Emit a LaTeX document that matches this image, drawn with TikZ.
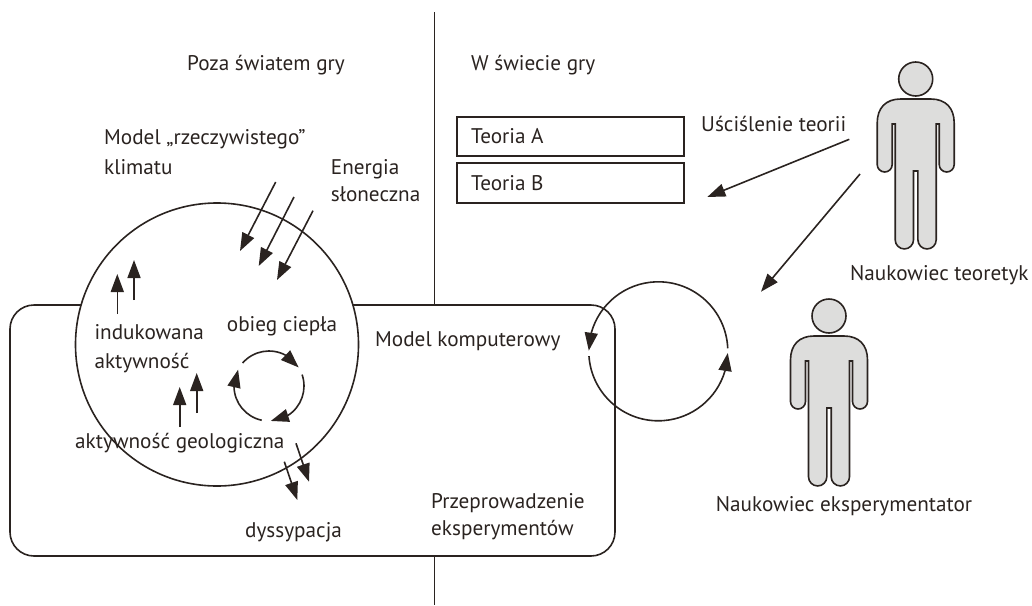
\documentclass[tikz,border=0pt]{standalone}
\usepackage{fontspec}
\setmainfont{PT Sans}
\usetikzlibrary{arrows.meta,calc}
\definecolor{ink}{HTML}{2A2320}
\definecolor{bodygray}{HTML}{DDDDDC}
\tikzset{
  line/.style={draw=ink,line width=1.6pt},
  arr/.style={line,-{Triangle[length=18pt,width=13pt]}},
  txt/.style={anchor=base west,inner sep=0pt,text=ink,font=\fontsize{21.2}{24}\selectfont},
  theorybox/.style={draw=ink,line width=1.9pt,fill=none,minimum width=227pt,anchor=north west,inner sep=0pt},
  person/.pic={
    \path[line,fill=bodygray,line join=miter]
      (-38.5,24) .. controls (-38.5,9) and (-30,0) .. (-15,0) -- (15,0)
      .. controls (30,0) and (38.5,9) .. (38.5,24) -- (38.5,65.5)
      arc[start angle=0,end angle=-180,radius=7.5pt] -- (23.5,25) -- (20.5,25) -- (20.5,140.8)
      arc[start angle=0,end angle=-180,radius=9.15pt] -- (2.2,72) -- (-2.2,72) -- (-2.2,140.8)
      arc[start angle=0,end angle=-180,radius=9.15pt] -- (-20.5,25) -- (-23.5,25) -- (-23.5,65.5)
      arc[start angle=0,end angle=-180,radius=7.5pt] -- cycle;
    \path[line,fill=bodygray] (0,-20) circle[radius=17pt];
  }
}
\begin{document}
\begin{tikzpicture}[x=1pt,y=-1pt]
\useasboundingbox (0,0) rectangle (1032,605);
% divider
\coordinate (divtop) at (434.3,12);
\coordinate (divmid) at (434.3,305);
\coordinate (divlow) at (434.3,556);
\coordinate (divbot) at (434.3,605);
\draw[line] (divtop) -- (divmid);
\draw[line] (divlow) -- (divbot);
% rounded frame
\coordinate (frameA) at (81,305);
\coordinate (frameB) at (353,305);
\draw[line] (frameA) -- (34,305) arc[start angle=90,end angle=180,radius=24pt] -- (10,532)
  arc[start angle=180,end angle=270,radius=24pt] -- (591,556)
  arc[start angle=270,end angle=360,radius=24pt] -- (615,329)
  arc[start angle=0,end angle=90,radius=24pt] -- (frameB);
% big circle
\node[line,circle,minimum size=283pt,inner sep=0pt] (climate) at (217,344.5) {};
% small cycle
\coordinate (heat) at (269,386);
\draw[arr] (heat) ++(139:35pt) arc[start angle=139,end angle=61.5,radius=35pt] -- ($(heat)+(32:35pt)$);
\draw[arr] (heat) ++(19:35pt) arc[start angle=19,end angle=-57.5,radius=35pt] -- ($(heat)+(-87:35pt)$);
\draw[arr] (heat) ++(-102:35pt) arc[start angle=-102,end angle=-178.5,radius=35pt] -- ($(heat)+(152:35pt)$);
% experiment cycle
\coordinate (exper) at (658.3,351.3);
\draw[arr] (exper) ++(184:69.5pt) arc[start angle=184,end angle=343.8,radius=69.5pt] -- ($(exper)+(358.6:69.5pt)$);
\draw[arr] (exper) ++(2.5:69.5pt) arc[start angle=2.5,end angle=164.7,radius=69.5pt] -- ($(exper)+(179.5:69.5pt)$);
% solar arrows
\coordinate (s1a) at (275.7,182); \coordinate (s1b) at (240,251);
\coordinate (s2a) at (294,197);   \coordinate (s2b) at (258.7,266);
\coordinate (s3a) at (313,210.7); \coordinate (s3b) at (277,280);
\draw[arr] (s1a) -- (s1b);
\draw[arr] (s2a) -- (s2b);
\draw[arr] (s3a) -- (s3b);
% up arrows
\coordinate (u1a) at (117.3,314); \coordinate (u1b) at (117.3,274);
\coordinate (u2a) at (134,300);   \coordinate (u2b) at (134,260);
\coordinate (u3a) at (179.7,427); \coordinate (u3b) at (179.7,387);
\coordinate (u4a) at (196.7,413); \coordinate (u4b) at (196.7,373);
\draw[arr] (u1a) -- (u1b);
\draw[arr] (u2a) -- (u2b);
\draw[arr] (u3a) -- (u3b);
\draw[arr] (u4a) -- (u4b);
% dissipation arrows
\coordinate (d1a) at (284.3,461.7); \coordinate (d1b) at (297.3,500);
\coordinate (d2a) at (296,443.3);   \coordinate (d2b) at (309,481.7);
\draw[arr] (d1a) -- (d1b);
\draw[arr] (d2a) -- (d2b);
% theory arrows
\coordinate (t1a) at (849.3,139.3); \coordinate (t1b) at (707.3,197);
\coordinate (t2a) at (860,174);     \coordinate (t2b) at (761,291.7);
\draw[arr] (t1a) -- (t1b);
\draw[arr] (t2a) -- (t2b);
% theory boxes
\node[theorybox,minimum height=39.3pt] (boxA) at (455.7,116) {};
\node[theorybox,minimum height=39.7pt] (boxB) at (455.7,162) {};
% people
\pic at (915.7,99) {person};
\pic at (829,336) {person};
% texts
\node[txt] (t01) at (187,70) {Poza światem gry};
\node[txt] (t02) at (471,70) {W świecie gry};
\node[txt] (t03) at (471,143) {Teoria A};
\node[txt] (t04) at (471,190) {Teoria B};
\node[txt] (t05) at (104,144) {Model „rzeczywistego”};
\node[txt] (t06) at (104,174) {klimatu};
\node[txt] (t07) at (330.7,174) {Energia};
\node[txt] (t08) at (330.7,201.7) {słoneczna};
\node[txt] (t09) at (701,131.7) {Uściślenie teorii};
\node[txt] (t10) at (850,280.7) {Naukowiec teoretyk};
\node[txt] (t11) at (715.7,511.7) {Naukowiec eksperymentator};
\node[txt] (t12) at (375,346) {Model komputerowy};
\node[txt] (t13) at (431,508) {Przeprowadzenie};
\node[txt] (t14) at (431,535.7) {eksperymentów};
\node[txt] (t15) at (245,537) {dyssypacja};
\node[txt] (t16) at (75,448) {aktywność geologiczna};
\node[txt] (t17) at (226.7,331.7) {obieg ciepła};
\node[txt] (t18) at (94.3,339) {indukowana};
\node[txt] (t19) at (94.3,368) {aktywność};
\end{tikzpicture}
\end{document}
